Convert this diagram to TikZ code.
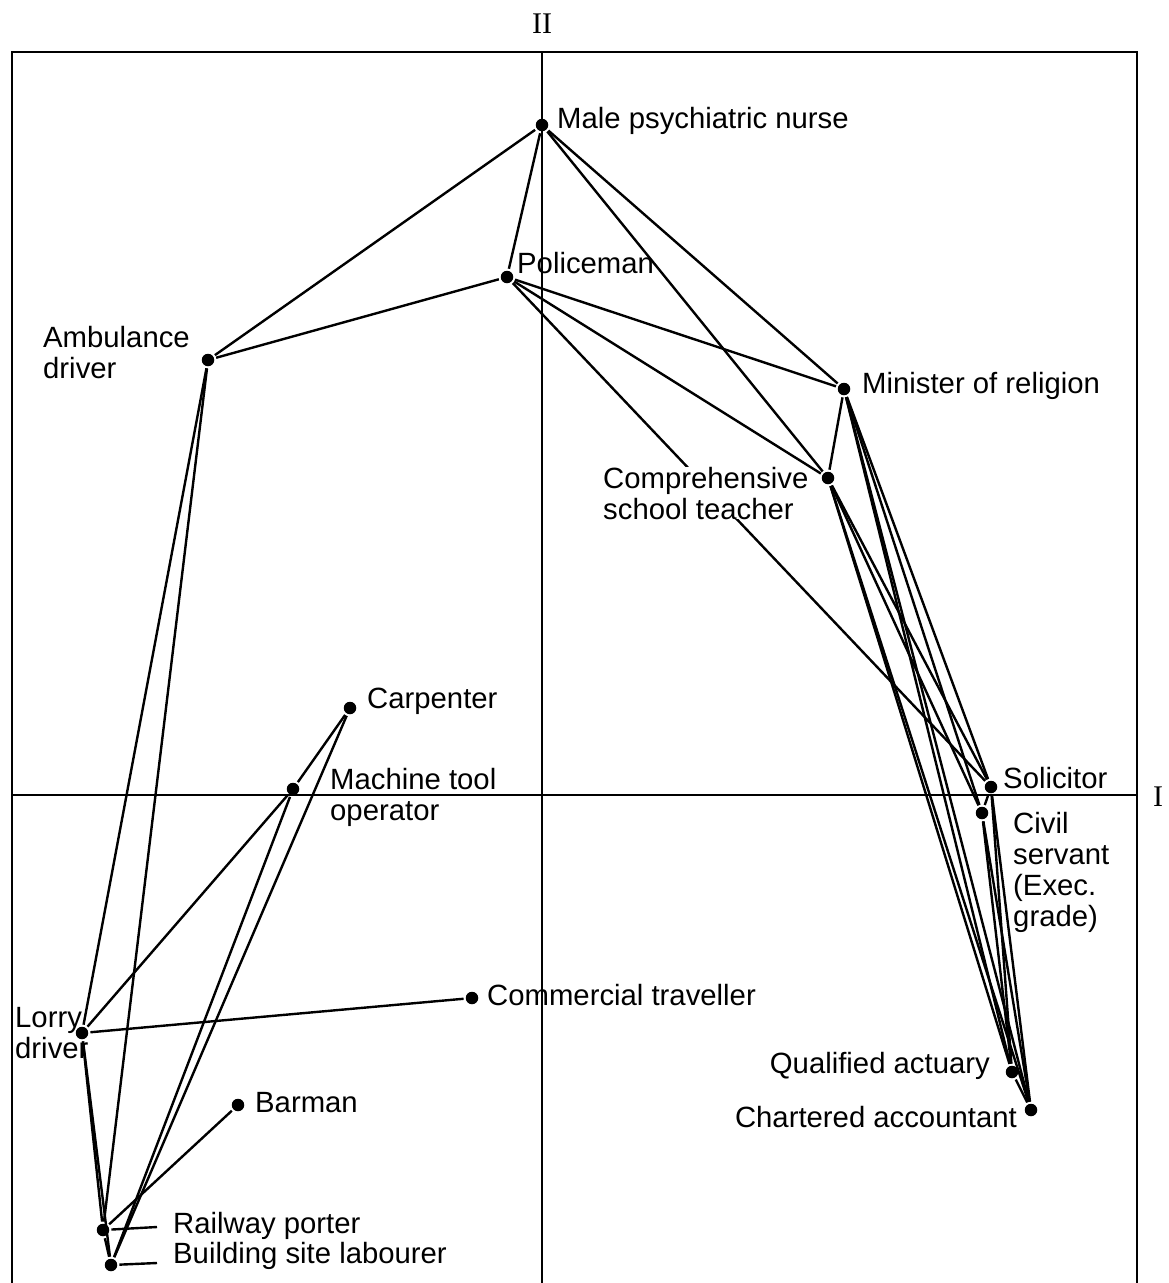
\documentclass[tikz,border=0pt]{standalone}
\usepackage{fontspec}
\newfontfamily\labelfont{Liberation Sans}
\newfontfamily\numfont{Liberation Serif}
\begin{document}
\begin{tikzpicture}[x=1pt,y=-1pt,
  dot/.style={circle,fill=black,inner sep=0pt,minimum size=12.5pt},
  link/.style={draw=black,line width=2.4pt,shorten <=2pt,shorten >=2pt},
  lab/.style={inner sep=0pt,align=left,font=\labelfont\fontsize{29.3}{31}\selectfont},
  axis/.style={draw=black,line width=2.4pt},
  numeral/.style={inner sep=0pt,font=\numfont\fontsize{30}{31}\selectfont}]
\useasboundingbox (0,0) rectangle (1168,1283);
% frame and axes
\draw[axis] (12,1300) -- (12,52) -- (1137,52) -- (1137,1300);
\draw[axis] (542,52) -- (542,1300);
\draw[axis] (12,795) -- (1137,795);
\node[numeral,anchor=base] (axII) at (542,33) {II};
\node[numeral,anchor=base] (axI) at (1158,806) {I};
% points
\node[dot] (nurse) at (542,125) {};
\node[dot] (pol) at (507,277) {};
\node[dot] (amb) at (208,360) {};
\node[dot] (min) at (844,389) {};
\node[dot] (teach) at (828,478) {};
\node[dot] (carp) at (350,708) {};
\node[dot] (mt) at (293,789) {};
\node[dot] (sol) at (991,787) {};
\node[dot] (civ) at (982,813) {};
\node[dot] (comm) at (472,998) {};
\node[dot] (lorry) at (82,1033) {};
\node[dot] (barman) at (238,1105) {};
\node[dot] (act) at (1012,1072) {};
\node[dot] (acc) at (1031,1110) {};
\node[dot] (porter) at (103,1230) {};
\node[dot] (lab) at (111,1265) {};
% connectors
\foreach \a/\b in {nurse/amb,nurse/pol,nurse/min,nurse/teach,
  pol/amb,pol/min,pol/teach,pol/sol,
  min/teach,min/sol,min/civ,min/act,min/acc,
  teach/sol,teach/civ,teach/act,teach/acc,
  sol/civ,sol/act,sol/acc,civ/act,civ/acc,act/acc,
  amb/lorry,amb/porter,
  carp/mt,carp/lab,mt/lorry,mt/lab,
  lorry/comm,lorry/porter,lorry/lab,
  barman/porter,porter/lab}
  \draw[link] (\a) -- (\b);
\coordinate (porterend) at (157,1227);
\coordinate (labend) at (157,1263);
\draw[link,shorten >=0pt] (porter) -- (porterend);
\draw[link,shorten >=0pt] (lab) -- (labend);
% labels
\node[lab,anchor=base west] (tnurse) at (557,128) {Male psychiatric nurse};
\node[lab,anchor=base west] (tpol) at (517,273) {Policeman};
\node[lab,anchor=base west] (tamb) at (43,378) {Ambulance\\driver};
\node[lab,anchor=base west] (tmin) at (862,393) {Minister of religion};
\node[lab,anchor=base west,fill=white] (tteach) at (603,519) {Comprehensive\\school teacher};
\node[lab,anchor=base west] (tcarp) at (367,708) {Carpenter};
\node[lab,anchor=base west] (tmt) at (330,820) {Machine tool\\operator};
\node[lab,anchor=base west] (tsol) at (1003,788) {Solicitor};
\node[lab,anchor=base west] (tciv) at (1013,926) {Civil\\servant\\(Exec.\\ grade)};
\node[lab,anchor=base west] (tcomm) at (487,1005) {Commercial traveller};
\node[lab,anchor=base west] (tlorry) at (15,1058) {Lorry\\driver};
\node[lab,anchor=base west] (tbarman) at (255,1112) {Barman};
\node[lab,anchor=base east] (tact) at (990,1073) {Qualified actuary};
\node[lab,anchor=base east] (tacc) at (1017,1127) {Chartered accountant};
\node[lab,anchor=base west] (tporter) at (173,1233) {Railway porter};
\node[lab,anchor=base west] (tlab) at (173,1263) {Building site labourer};
\end{tikzpicture}
\end{document}
